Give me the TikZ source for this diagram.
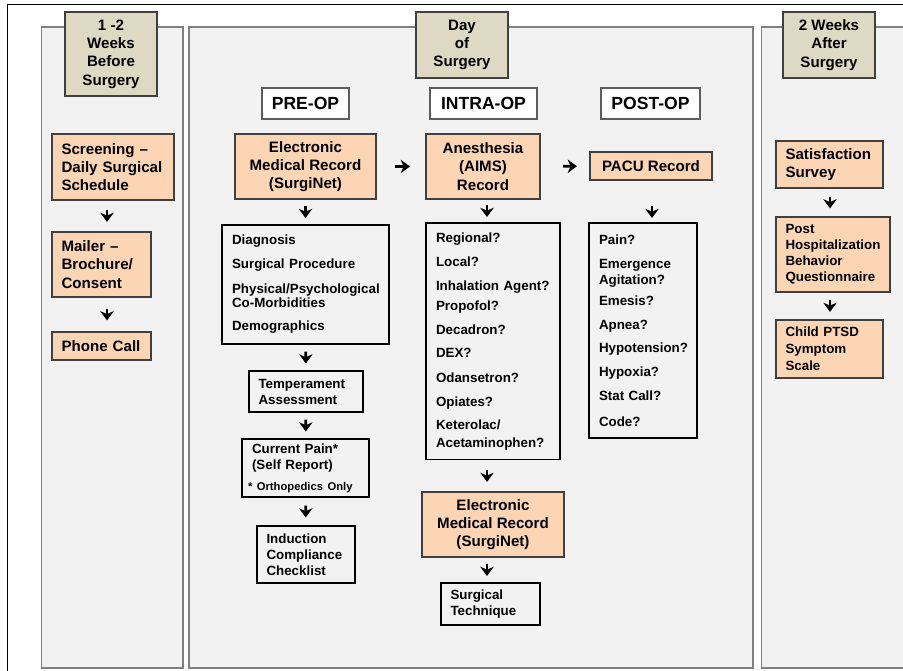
\documentclass[tikz,border=0pt]{standalone}
\usepackage{fontspec}
\setmainfont{Liberation Sans}
\usetikzlibrary{arrows.meta}
\definecolor{panelgray}{HTML}{F2F2F2}
\definecolor{panelline}{HTML}{7F7F7F}
\definecolor{tanfill}{HTML}{DDD9C3}
\definecolor{peach}{HTML}{FCD5B5}
\definecolor{boxline}{HTML}{404040}
\newcommand{\mainsize}{\fontsize{8.6}{10.4}\selectfont\bfseries}
\newcommand{\smallsize}{\fontsize{7.6}{9.1}\selectfont\bfseries}
\newcommand{\listsize}{\fontsize{7.6}{8.5}\selectfont\bfseries}

\begin{document}
\begin{tikzpicture}[x=0.02cm,y=-0.02cm,
    panel/.style={fill=panelgray,draw=panelline,line width=1.1pt},
    periodbox/.style={draw=boxline,fill=tanfill,line width=0.8pt,inner sep=0pt,align=center,font=\mainsize},
    phasebox/.style={draw=boxline!85,fill=white,line width=0.9pt,inner sep=0pt,font=\fontsize{10}{12}\selectfont\bfseries},
    recbox/.style={draw=boxline,fill=peach,line width=0.7pt,inner sep=0pt,align=center,font=\mainsize},
    recboxl/.style={recbox,align=left,inner xsep=0.19cm},
    listbox/.style={draw=black,line width=0.6pt,inner ysep=0pt,inner xsep=0.19cm,align=left,font=\smallsize},
    arr/.style={-{Stealth[length=5.2pt,width=7.6pt,inset=1.6pt]},line width=1.6pt,shorten <=#1,shorten >=#1},
    arr/.default=0.2cm]
  \useasboundingbox (0,0) rectangle (903,671);
  % outer frame and the three time panels
  \draw[line width=0.6pt] (7.5,671) -- (7.5,4.5) -- (903,4.5);
  \draw[panel] (41.5,27) rectangle (183,668);
  \draw[panel] (189,27) rectangle (753,668);
  \draw[panel] (761.5,27) rectangle (910,668);

  % period headers
  \node[periodbox,minimum width=1.84cm,minimum height=1.68cm] (wk1) at (111,54) {1 -2\\Weeks\\Before\\Surgery};
  \node[periodbox,minimum width=1.84cm,minimum height=1.32cm] (day) at (462,45) {Day\\of\\Surgery};
  \node[periodbox,minimum width=1.84cm,minimum height=1.32cm] (wk2) at (829,45) {2 Weeks\\After\\Surgery};

  % phases
  \node[phasebox,minimum width=1.74cm,minimum height=0.62cm] (pre) at (305.5,103.5) {PRE-OP};
  \node[phasebox,minimum width=2.14cm,minimum height=0.62cm] (intra) at (483.5,103.5) {INTRA-OP};
  \node[phasebox,minimum width=1.98cm,minimum height=0.62cm] (post) at (650.5,103.5) {POST-OP};

  % before surgery
  \node[recboxl,text width=2.06cm,minimum height=1.32cm] (screen) at (113,167) {Screening –\\Daily Surgical\\Schedule};
  \node[recboxl,text width=1.60cm,minimum height=1.30cm] (mailer) at (101.5,264.5) {Mailer –\\Brochure/\\Consent};
  \node[recboxl,text width=1.60cm,minimum height=0.56cm] (phone) at (101.5,346) {Phone Call};

  % pre-op
  \node[recbox,minimum width=2.82cm,minimum height=1.30cm] (emrA) at (305.5,166.5) {Electronic\\Medical Record\\(SurgiNet)};
  \node[listbox,text width=2.94cm,inner xsep=0.2cm,minimum height=2.38cm] (prelist) at (305.5,284.5) {\listsize Diagnosis\\[5.2pt] Surgical Procedure\\[5.2pt] Physical/Psychological\\ Co-Morbidities\\[4pt] Demographics};
  \node[listbox,text width=1.90cm,minimum height=0.82cm] (temper) at (306,391.5) {Temperament\\Assessment};
  \node[listbox,text width=2.30cm,inner xsep=0.12cm,minimum height=1.16cm] (pain) at (305.5,468) {\hspace*{0.08cm}Current Pain*\\ \hspace*{0.08cm}(Self Report)\\[2.9pt] {\fontsize{6.4}{7.5}\selectfont * Orthopedics Only}};
  \node[listbox,text width=1.58cm,minimum height=1.14cm] (induct) at (306,554.5) {Induction\\Compliance\\Checklist};

  % intra-op
  \node[recbox,minimum width=2.28cm,minimum height=1.30cm] (anes) at (483,166.5) {Anesthesia\\(AIMS)\\Record};
  \node[listbox,text width=2.28cm,inner xsep=0.2cm,minimum height=4.74cm] (intralist) at (493,341.5) {\listsize Regional?\\[5.2pt] Local?\\[5.2pt] Inhalation Agent?\\[2.9pt] Propofol?\\[5.2pt] Decadron?\\[4.6pt] DEX?\\[5.7pt] Odansetron?\\[5.2pt] Opiates?\\[4.6pt] Keterolac/\\[1.2pt] Acetaminophen?};
  \node[recbox,minimum width=2.84cm,minimum height=1.30cm] (emrB) at (493,524.5) {Electronic\\Medical Record\\(SurgiNet)};
  \node[listbox,text width=1.60cm,minimum height=0.84cm] (technique) at (490.5,604) {Surgical\\Technique};

  % post-op
  \node[recbox,minimum width=2.44cm,minimum height=0.56cm] (pacu) at (651,166) {PACU Record};
  \node[listbox,text width=1.76cm,inner xsep=0.2cm,minimum height=4.30cm] (postlist) at (643,330.5) {\listsize Pain?\\[5.2pt] Emergence\\[0.6pt] Agitation?\\[3.5pt] Emesis?\\[5.2pt] Apnea?\\[4.6pt] Hypotension?\\[5.2pt] Hypoxia?\\[5.2pt] Stat Call?\\[5.2pt] Code?};

  % after surgery
  \node[recboxl,text width=1.76cm,minimum height=0.94cm] (satis) at (829.5,164.5) {Satisfaction\\Survey};
  \node[recboxl,font=\smallsize,text width=1.90cm,minimum height=1.50cm] (behav) at (833,254.5) {Post\\Hospitalization\\Behavior\\Questionnaire};
  \node[recboxl,font=\fontsize{7.6}{9.7}\selectfont\bfseries,text width=1.76cm,minimum height=1.16cm] (ptsd) at (829.5,349) {Child PTSD\\Symptom\\Scale};

  % arrow columns
  \coordinate (colA) at (107,0);
  \coordinate (colI) at (487,0);
  \coordinate (colO) at (652,0);
  \coordinate (colR) at (830,0);

  \draw[arr=0.19cm] (screen.south -| colA) -- (mailer.north -| colA);
  \draw[arr=0.22cm] (mailer.south -| colA) -- (phone.north -| colA);
  \draw[arr=0.13cm] (emrA) -- (prelist);
  \draw[arr=0.14cm] (prelist) -- (temper);
  \draw[arr=0.14cm] (temper) -- (pain);
  \draw[arr=0.16cm] (pain) -- (induct);
  \draw[arr,shorten <=0.37cm,shorten >=0.31cm] (emrA) -- (anes);
  \draw[arr=0.11cm] (anes.south -| colI) -- (intralist.north -| colI);
  \draw[arr=0.19cm] (intralist.south -| colI) -- (emrB.north -| colI);
  \draw[arr=0.13cm] (emrB.south -| colI) -- (technique.north -| colI);
  \draw[arr,shorten <=0.45cm,shorten >=0.25cm] (anes) -- (pacu);
  \draw[arr,shorten <=0.51cm,shorten >=0.09cm] (pacu.south -| colO) -- (postlist.north -| colO);
  \draw[arr=0.16cm] (satis.south -| colR) -- (behav.north -| colR);
  \draw[arr=0.15cm] (behav.south -| colR) -- (ptsd.north -| colR);
\end{tikzpicture}
\end{document}
